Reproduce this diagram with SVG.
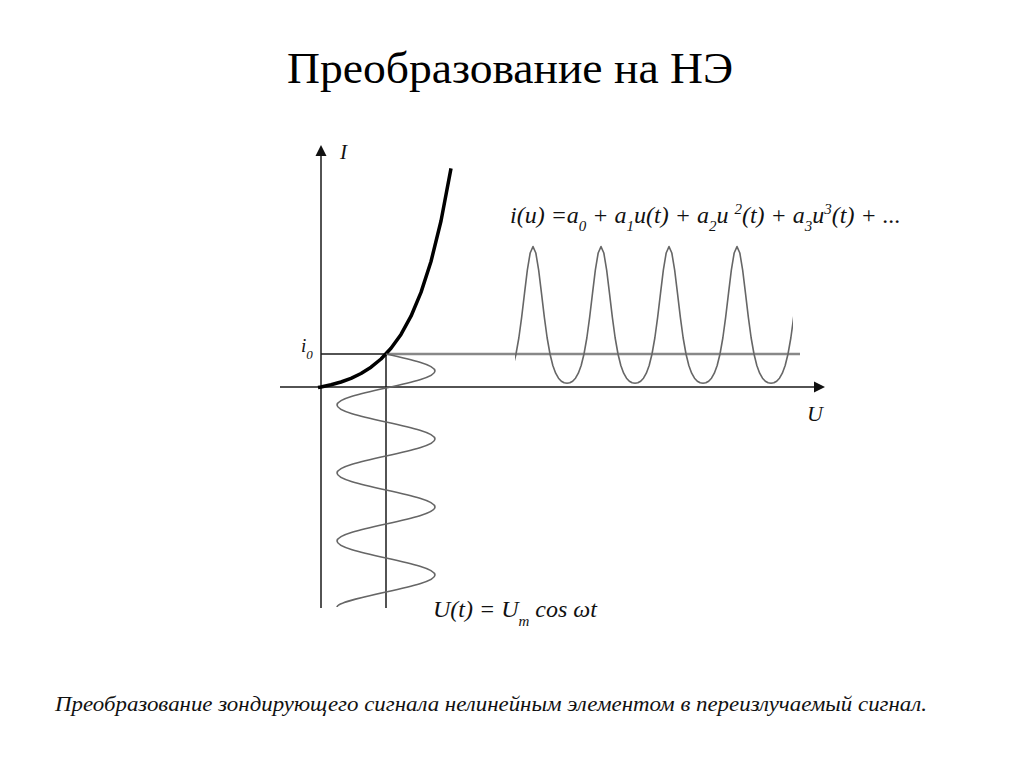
<svg xmlns="http://www.w3.org/2000/svg" width="1024" height="767" viewBox="0 0 1024 767">
<style>
.ax{stroke:#1a1a1a;stroke-width:1.5;fill:none}
.wave{stroke:#666;stroke-width:1.6;fill:none;stroke-linejoin:round}
.t{font-family:"Liberation Serif","DejaVu Serif","Times New Roman",serif;fill:#000}
.it{font-family:"Liberation Serif","DejaVu Serif","Times New Roman",serif;font-style:italic;fill:#111}
</style>
<defs>
<clipPath id="clipR"><rect x="515" y="200" width="278" height="200"/></clipPath>
<path id="per" d="M-34,383.2 L-31.17,382.7 L-28.33,381.2 L-25.5,378.2 L-22.67,373.2 L-19.83,365.5 L-17,354 L-14.17,338 L-11.33,317.2 L-8.5,293.4 L-5.67,270.2 L-2.83,253 L0,246.6 L2.83,253 L5.67,270.2 L8.5,293.4 L11.33,317.2 L14.17,338 L17,354 L19.83,365.5 L22.67,373.2 L25.5,378.2 L28.33,381.2 L31.17,382.7 L34,383.2"/>
</defs>
<rect width="1024" height="767" fill="#fff"/>
<text class="t" x="510" y="83" font-size="44" text-anchor="middle" textLength="446" lengthAdjust="spacingAndGlyphs">Преобразование на НЭ</text>
<g id="axes">
<line class="ax" x1="321" y1="154" x2="321" y2="608"/>
<polygon points="321,145 315.5,156 326.5,156" fill="#111"/>
<line class="ax" x1="280" y1="387" x2="815" y2="387"/>
<polygon points="825,387 814,381.5 814,392.5" fill="#111"/>
<line class="ax" x1="386" y1="354" x2="386" y2="608"/>
<line class="ax" x1="321" y1="354" x2="386" y2="354"/>
<line x1="386" y1="354" x2="800" y2="354" stroke="#888" stroke-width="2.5"/>
</g>
<g id="curve">
<polyline points="318,387.5 321,387 331,384.8 341,382 351,378.3 361,373.5 371,367.2 381,359 391,348.3 401,334.4 411,316.2 421,292.4 431,261.5 441,221 451,168.4" fill="none" stroke="#000" stroke-width="3.5" stroke-linejoin="round"/>
</g>
<g id="input-wave">
<path class="wave" d="M386,354 C411.1,359.54 435,364.85 435,371 C435,377.15 411.1,382.46 386,388 C360.9,393.54 337,398.85 337,405 C337,411.15 360.9,416.46 386,422 C411.1,427.54 435,432.85 435,439 C435,445.15 411.1,450.46 386,456 C360.9,461.54 337,466.85 337,473 C337,479.15 360.9,484.46 386,490 C411.1,495.54 435,500.85 435,507 C435,513.15 411.1,518.46 386,524 C360.9,529.54 337,534.85 337,541 C337,547.15 360.9,552.46 386,558 C411.1,563.54 435,568.85 435,575 C435,581.15 411.1,586.46 386,592 C360.9,597.54 337,602.85 337,607"/>
</g>
<g id="output-wave" clip-path="url(#clipR)">
<use href="#per" class="wave" transform="translate(533,0)"/>
<use href="#per" class="wave" transform="translate(601,0)"/>
<use href="#per" class="wave" transform="translate(669,0)"/>
<use href="#per" class="wave" transform="translate(737,0)"/>
<use href="#per" class="wave" transform="translate(805,0)"/>
</g>
<g id="labels">
<text class="it" x="340" y="159" font-size="21">I</text>
<text class="it" x="301" y="352" font-size="19">i<tspan font-size="13" dy="7">0</tspan></text>
<text class="it" x="807" y="421" font-size="22">U</text>
<text class="it" x="510" y="223" font-size="24">i(u) =a<tspan font-size="15" dy="8">0</tspan><tspan dy="-8"> + a</tspan><tspan font-size="15" dy="8">1</tspan><tspan dy="-8">u(t) + a</tspan><tspan font-size="15" dy="8">2</tspan><tspan dy="-8">u </tspan><tspan font-size="15" dy="-9">2</tspan><tspan dy="9">(t) + a</tspan><tspan font-size="15" dy="8">3</tspan><tspan dy="-8">u</tspan><tspan font-size="15" dy="-9">3</tspan><tspan dy="9">(t) + ...</tspan></text>
<text class="it" x="433" y="617" font-size="24">U(t) = U<tspan font-size="15" dy="9">m</tspan><tspan dy="-9"> cos ωt</tspan></text>
</g>
<text class="it" x="55" y="711" font-size="20" textLength="872" lengthAdjust="spacingAndGlyphs">Преобразование зондирующего сигнала  нелинейным элементом в переизлучаемый сигнал.</text>
</svg>
